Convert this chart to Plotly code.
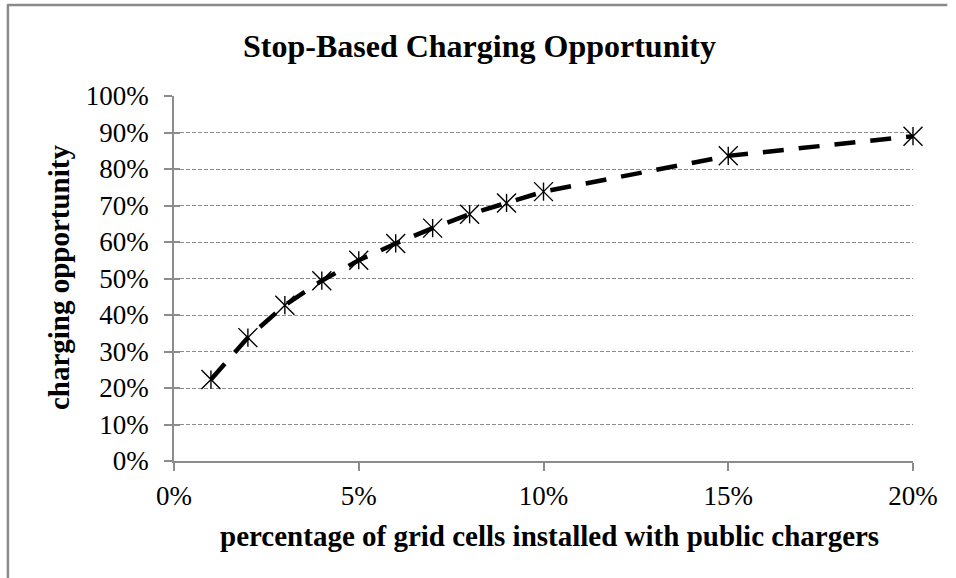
import plotly.graph_objects as go

# ---- data ----
share_cells = [0.01, 0.02, 0.03, 0.04, 0.05, 0.06, 0.07, 0.08, 0.09, 0.10, 0.15, 0.20]
charging_opp = [0.223, 0.338, 0.427, 0.494, 0.550, 0.596, 0.638, 0.676, 0.707, 0.738, 0.836, 0.890]
x_ticks = [0, 0.05, 0.10, 0.15, 0.20]
y_ticks = [0, 0.1, 0.2, 0.3, 0.4, 0.5, 0.6, 0.7, 0.8, 0.9, 1.0]

title_text = "Stop-Based Charging Opportunity"
x_title = "percentage of grid cells installed with public chargers"
y_title = "charging opportunity"

W, H = 956, 578
L, R, T, B = 174, 43.3, 96, 117.3
PW, PH = W - L - R, H - T - B

def px(xp):
    return (xp - L) / PW

def py(yp):
    return (H - B - yp) / PH

SERIF = "Liberation Serif, Times New Roman, serif"
AXC = "#8c8c8c"

fig = go.Figure()
fig.add_trace(go.Scatter(
    x=share_cells, y=charging_opp, mode="lines", cliponaxis=False,
    line=dict(color="black", width=4.5, dash="21px,15px"),
    showlegend=False, hoverinfo="skip"))
fig.add_trace(go.Scatter(
    x=share_cells, y=charging_opp, mode="markers", cliponaxis=False,
    marker=dict(symbol="x-thin-open", size=19, color="black",
                line=dict(color="black", width=1.4)),
    showlegend=False))
fig.add_trace(go.Scatter(
    x=share_cells, y=charging_opp, mode="markers", yaxis="y2", cliponaxis=False,
    marker=dict(symbol="line-ns-open", size=13, color="black",
                line=dict(color="black", width=1.4)),
    showlegend=False, hoverinfo="skip"))

fig.update_layout(
    width=W, height=H,
    margin=dict(l=L, r=R, t=T, b=B),
    paper_bgcolor="white", plot_bgcolor="white",
    font=dict(family=SERIF, size=27, color="black"),
    xaxis=dict(range=[0, 0.2], tickvals=x_ticks, tickformat=".0%",
               showgrid=False, zeroline=False,
               showline=True, linecolor=AXC, linewidth=1.5,
               ticks="outside", ticklen=8, tickcolor=AXC, tickwidth=1.5,
               tickfont=dict(family=SERIF, size=27, color="black"),
               ticklabelstandoff=2),
    yaxis=dict(range=[0, 1], tickvals=y_ticks, tickformat=".0%",
               showgrid=True, gridcolor="#8c8c8c", gridwidth=1.2, griddash="4px,2px",
               zeroline=False,
               showline=True, linecolor=AXC, linewidth=1.5,
               ticks="outside", ticklen=8, tickcolor=AXC, tickwidth=1.5,
               tickfont=dict(family=SERIF, size=27, color="black"),
               ticklabelstandoff=10),
    yaxis2=dict(range=[0, 1], overlaying="y", side="left", tickvals=y_ticks,
                showgrid=False, zeroline=False, showline=False,
                showticklabels=False,
                ticks="inside", ticklen=6, tickcolor=AXC, tickwidth=1.5),
    annotations=[
        dict(text="<b>" + title_text + "</b>", xref="paper", yref="paper",
             x=px(479), y=py(46), xanchor="center", yanchor="middle",
             showarrow=False, font=dict(family=SERIF, size=32, color="black")),
        dict(text="<b>" + x_title + "</b>", xref="paper", yref="paper",
             x=px(549), y=py(536), xanchor="center", yanchor="middle",
             showarrow=False, font=dict(family=SERIF, size=29, color="black")),
        dict(text="<b>" + y_title + "</b>", xref="paper", yref="paper",
             x=px(59), y=py(277), xanchor="center", yanchor="middle",
             textangle=-90,
             showarrow=False, font=dict(family=SERIF, size=29, color="black")),
    ],
    shapes=[
        dict(type="line", xref="paper", yref="paper",
             x0=px(8), x1=px(8), y0=py(5), y1=py(585),
             line=dict(color="#8a8a8a", width=2.5)),
        dict(type="line", xref="paper", yref="paper",
             x0=px(7), x1=px(947), y0=py(5), y1=py(5),
             line=dict(color="#8a8a8a", width=2.5)),
    ],
)

fig.write_html("out.html",
               config={"displayModeBar": False},
               post_script="document.body.style.margin='0';document.body.style.overflow='hidden';")
